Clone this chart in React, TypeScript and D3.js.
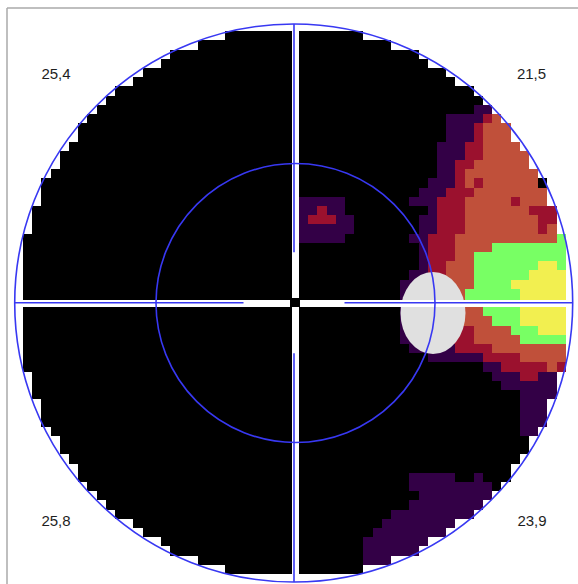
import React from 'react';
import * as d3 from 'd3';

const W = 578;
const H = 584;

// category codes used in the grid strings and their colours
const codes = ['.', 'p', 'r', 's', 'g', 'y'];
const codeColors = ['#000000', '#330046', '#9b112e', '#c0503a', '#78ff64', '#f2ef50'];

// right (temporal) field: columns from 12, rows from -21
const rightCol0 = 12;
const rightRow0 = -21;
const rightRows = [
  '........pp........', // -21
  '.....pppprs.......', // -20
  '.....ppprsss......', // -19
  '.....ppprsss......', // -18
  '....ppprrssss.....', // -17
  '....ppprrsssss....', // -16
  '....pprrssssss....', // -15
  '....pprssssssss...', // -14
  '...ppprsrssssss...', // -13
  '..ppprrrssssssss..', // -12
  '.ppprrrsssssrsss..', // -11
  '...prrrsssssssrrr.', // -10
  '..pprrrssssssssrr.', // -9
  '..pprrrssssssssrs.', // -8
  '.pprrrsssssssssssg', // -7
  '..prrrssssgggggggg', // -6
  '..prrrssgggggggggg', // -5
  '..prrsssgggggggyyg', // -4
  '.pprrsssggggggyyyy', // -3
  'pprrrsssggggyyyyyy', // -2
  'pprrrssggggggyyyyy', // -1
  '',                   // 0 (meridian)
  'prrrrssssggggyyyyy', // 1
  'prrrssssssgggyyyyy', // 2
  'prrrrrrrssssgggyyy', // 3
  'pprrrrrrsssssggggg', // 4
  '.ppppprrrrssssssss', // 5
  '...pppppprrrrsssss', // 6
  '.........pprrrrrsr', // 7
  '..........ppprrpp.', // 8
  '...........pppppp.', // 9
  '.............pppp.', // 10
  '.............ppp..', // 11
  '.............ppp..', // 12
  '.............ppp..', // 13
  '.............pp...', // 14
];

// lower field patch: columns from 8, rows from 19
const bottomCol0 = 8;
const bottomRow0 = 19;
const bottomRows = [
  '.....ppppp..p..', // 19
  '.....ppppppppp.', // 20
  '......pppppppp.', // 21
  '.....pppppppp..', // 22
  '...ppppppppp...', // 23
  '..pppppppp.....', // 24
  '.pppppppp......', // 25
  'ppppppp........', // 26
  'pppppp.........', // 27
  'ppp............', // 28
];

// small patch above fixation: columns from 1, rows from -11
const topCol0 = 1;
const topRow0 = -11;
const topRows = [
  'ppppp.', // -11
  'pprpp.', // -10
  'prrrpp', // -9
  'pppppp', // -8
  'ppppp.', // -7
];

const quadrantLabels = ['25,4', '21,5', '25,8', '23,9'];

function lookup(rows: string[], col0: number, row0: number, i: number, j: number): string | null {
  const r = j - row0;
  if (r < 0 || r >= rows.length) return null;
  const s = rows[r];
  const c = i - col0;
  if (c < 0 || c >= s.length) return null;
  const ch = s[c];
  return ch === '.' ? null : ch;
}

function cellCode(i: number, j: number): string {
  const ii = i === 0 ? -1 : i;
  const jj = j === 0 ? -1 : j;
  return (
    lookup(topRows, topCol0, topRow0, ii, jj) ||
    lookup(rightRows, rightCol0, rightRow0, ii, jj) ||
    lookup(bottomRows, bottomCol0, bottomRow0, ii, jj) ||
    '.'
  );
}

export default function App() {
  const N = 30;
  const cell = 9.2;
  const xScale = d3.scaleLinear().domain([-0.5, 0.5]).range([289.8, 289.8 + cell]);
  const yScale = d3.scaleLinear().domain([-0.5, 0.5]).range([298, 298 + cell]);
  const color = d3.scaleOrdinal<string, string>().domain(codes).range(codeColors);

  const cells: { x: number; y: number; w: number; h: number; fill: string; key: string }[] = [];
  for (let j = -N; j <= N; j++) {
    for (let i = -N; i <= N; i++) {
      if (i * i + j * j >= 900) continue;
      const x0 = Math.round(xScale(i - 0.5));
      const x1 = Math.round(xScale(i + 0.5));
      const y0 = Math.round(yScale(j - 0.5));
      const y1 = Math.round(yScale(j + 0.5));
      cells.push({ x: x0, y: y0, w: x1 - x0, h: y1 - y0, fill: color(cellCode(i, j)), key: `${i}_${j}` });
    }
  }

  const cx = 293.7;
  const cy = 303;
  const R = 279;
  const innerCx = 295.5;
  const innerR = 139.5;
  const blue = '#3838f2';
  const lineX = 294;
  const lineY = 302.8;
  const gap = 50.5;

  const labelPos = [
    { x: 56, y: 79 },
    { x: 531.5, y: 79 },
    { x: 56, y: 526 },
    { x: 532, y: 526 },
  ];

  return (
    <svg
      width={W}
      height={H}
      style={{ position: 'absolute', left: 0, top: 0, background: '#ffffff' }}
    >
      <rect x={0} y={0} width={W} height={H} fill="#ffffff" />
      <line x1={7} y1={8} x2={W + 2} y2={8} stroke="#aaaaaa" strokeWidth={1.5} />
      <line x1={7} y1={8} x2={7} y2={H + 2} stroke="#aaaaaa" strokeWidth={1.5} />
      <g shapeRendering="crispEdges">
        {cells.map((c) => (
          <rect key={c.key} x={c.x} y={c.y} width={c.w} height={c.h} fill={c.fill} />
        ))}
      </g>
      <ellipse cx={433} cy={313} rx={32.5} ry={41} fill="#e0e0e0" />
      <g shapeRendering="crispEdges">
        <rect x={292} y={15} width={7} height={570} fill="#ffffff" />
        <rect x={12} y={300} width={565} height={7} fill="#ffffff" />
        <rect x={289.5} y={297.5} width={10.5} height={9.5} fill="#000000" />
      </g>
      <g fill="none" stroke={blue} strokeWidth={1.6}>
        <circle cx={cx} cy={cy} r={R} />
        <circle cx={innerCx} cy={cy} r={innerR} />
        <line x1={cx - R} y1={lineY} x2={lineX - gap} y2={lineY} />
        <line x1={lineX + gap} y1={lineY} x2={cx + R} y2={lineY} />
        <line x1={lineX} y1={cy - R} x2={lineX} y2={lineY - gap} />
        <line x1={lineX} y1={lineY + gap} x2={lineX} y2={cy + R} />
      </g>
      {quadrantLabels.map((t, k) => (
        <text
          key={t}
          x={labelPos[k].x}
          y={labelPos[k].y}
          textAnchor="middle"
          fontFamily="'Liberation Sans', Arial, sans-serif"
          fontSize={15}
          fill="#1e1e1e"
        >
          {t}
        </text>
      ))}
    </svg>
  );
}
